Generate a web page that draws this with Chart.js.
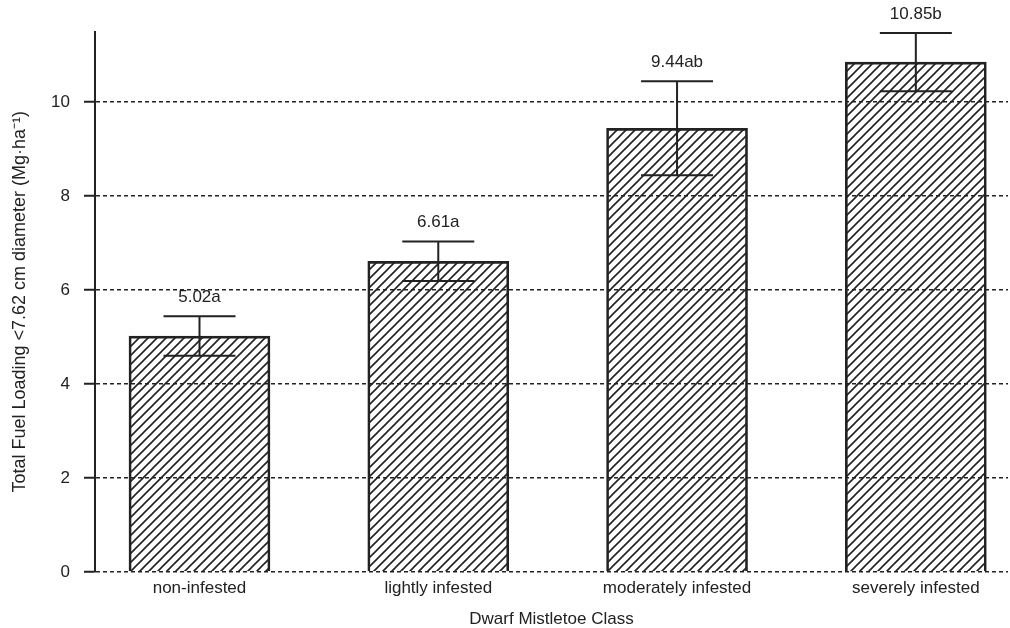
<!DOCTYPE html>
<html>
<head>
<meta charset="utf-8">
<script src="https://cdn.jsdelivr.net/npm/chart.js@4"></script>
<style>
  html, body { margin: 0; padding: 0; background: #fff; }
  #wrap { width: 1010px; height: 628px; }
</style>
</head>
<body>
<div id="wrap"><canvas id="c" width="1010" height="628"></canvas></div>
<script>
// Dwarf mistletoe infestation class vs. fine fuel loading
const categories = ['non-infested', 'lightly infested', 'moderately infested', 'severely infested'];
const fuelLoading = [5.02, 6.61, 9.44, 10.85];
const stdError = [0.42, 0.42, 1.0, 0.62];
const groupLetters = ['a', 'a', 'ab', 'b'];
const yTicks = [0, 2, 4, 6, 8, 10];

const INK = '#222';
const FONT = "'Liberation Sans', Arial, Helvetica, sans-serif";

// Diagonal hatch fill for the bars
function hatchPattern() {
  const s = 9;
  const c = document.createElement('canvas');
  c.width = s; c.height = s;
  const g = c.getContext('2d');
  g.strokeStyle = INK;
  g.lineWidth = 1.6;
  g.beginPath();
  g.moveTo(-1, s + 1); g.lineTo(s + 1, -1);
  g.moveTo(-2, 2); g.lineTo(2, -2);
  g.moveTo(s - 2, s + 2); g.lineTo(s + 2, s - 2);
  g.stroke();
  return document.getElementById('c').getContext('2d').createPattern(c, 'repeat');
}

// Error bars plus the mean/letter labels above them
const errorBarPlugin = {
  id: 'errorBars',
  afterDatasetsDraw(chart) {
    const ctx = chart.ctx;
    const y = chart.scales.y;
    const meta = chart.getDatasetMeta(0);
    ctx.save();
    ctx.strokeStyle = INK;
    ctx.lineWidth = 2;
    ctx.fillStyle = INK;
    ctx.font = '17px ' + FONT;
    ctx.textAlign = 'center';
    ctx.textBaseline = 'middle';
    meta.data.forEach((bar, i) => {
      const x = bar.x;
      const top = y.getPixelForValue(fuelLoading[i] + stdError[i]);
      const bot = y.getPixelForValue(fuelLoading[i] - stdError[i]);
      const cap = 36;
      ctx.beginPath();
      ctx.moveTo(x, top); ctx.lineTo(x, bot);
      ctx.moveTo(x - cap, top); ctx.lineTo(x + cap, top);
      ctx.moveTo(x - cap, bot); ctx.lineTo(x + cap, bot);
      ctx.stroke();
      ctx.fillText(fuelLoading[i].toFixed(2) + groupLetters[i], x, top - 19);
    });
    ctx.restore();
  }
};

new Chart(document.getElementById('c'), {
  type: 'bar',
  data: {
    datasets: [{
      data: categories.map((c, i) => ({ x: i + 1, y: fuelLoading[i] })),
      backgroundColor: hatchPattern(),
      borderColor: INK,
      borderWidth: 2,
      barThickness: 141
    }]
  },
  options: {
    responsive: false,
    animation: false,
    layout: { padding: { top: 31.5, right: 2, left: 0, bottom: 0 } },
    plugins: { legend: { display: false }, tooltip: { enabled: false } },
    scales: {
      x: {
        type: 'linear',
        offset: false,
        min: 0.5624,
        max: 4.386,
        grid: { display: false, drawTicks: false, offset: false },
        border: { display: false },
        afterBuildTicks: (s) => { s.ticks = categories.map((c, i) => ({ value: i + 1 })); },
        afterFit: (s) => { s.height = 56; s.paddingLeft = 0; s.paddingRight = 0; },
        ticks: {
          autoSkip: false,
          maxRotation: 0,
          padding: 6,
          color: INK,
          font: { family: FONT, size: 17 },
          callback: (v) => categories[v - 1]
        },
        title: {
          display: true,
          text: 'Dwarf Mistletoe Class',
          color: INK,
          font: { family: FONT, size: 17, lineHeight: 1 },
          padding: { top: 0, bottom: 0.5 }
        }
      },
      y: {
        min: 0,
        max: 11.5,
        afterBuildTicks: (s) => { s.ticks = yTicks.map(v => ({ value: v })); },
        afterFit: (s) => { s.width = 95; s.paddingTop = 0; s.paddingBottom = 0; },
        grid: {
          color: INK,
          lineWidth: 1.5,
          tickLength: 11,
          tickWidth: 2,
          tickColor: INK,
          tickBorderDash: [0, 0]
        },
        border: { display: true, color: INK, width: 2, dash: [4, 3] },
        ticks: {
          padding: 14,
          color: INK,
          font: { family: FONT, size: 17 }
        },
        title: {
          display: true,
          text: 'Total Fuel Loading <7.62 cm diameter (Mg\u00B7ha\u207B\u00B9)',
          color: INK,
          font: { family: FONT, size: 18 },
          padding: { top: 9, bottom: 0 }
        }
      }
    }
  },
  plugins: [errorBarPlugin]
});
</script>
</body>
</html>
